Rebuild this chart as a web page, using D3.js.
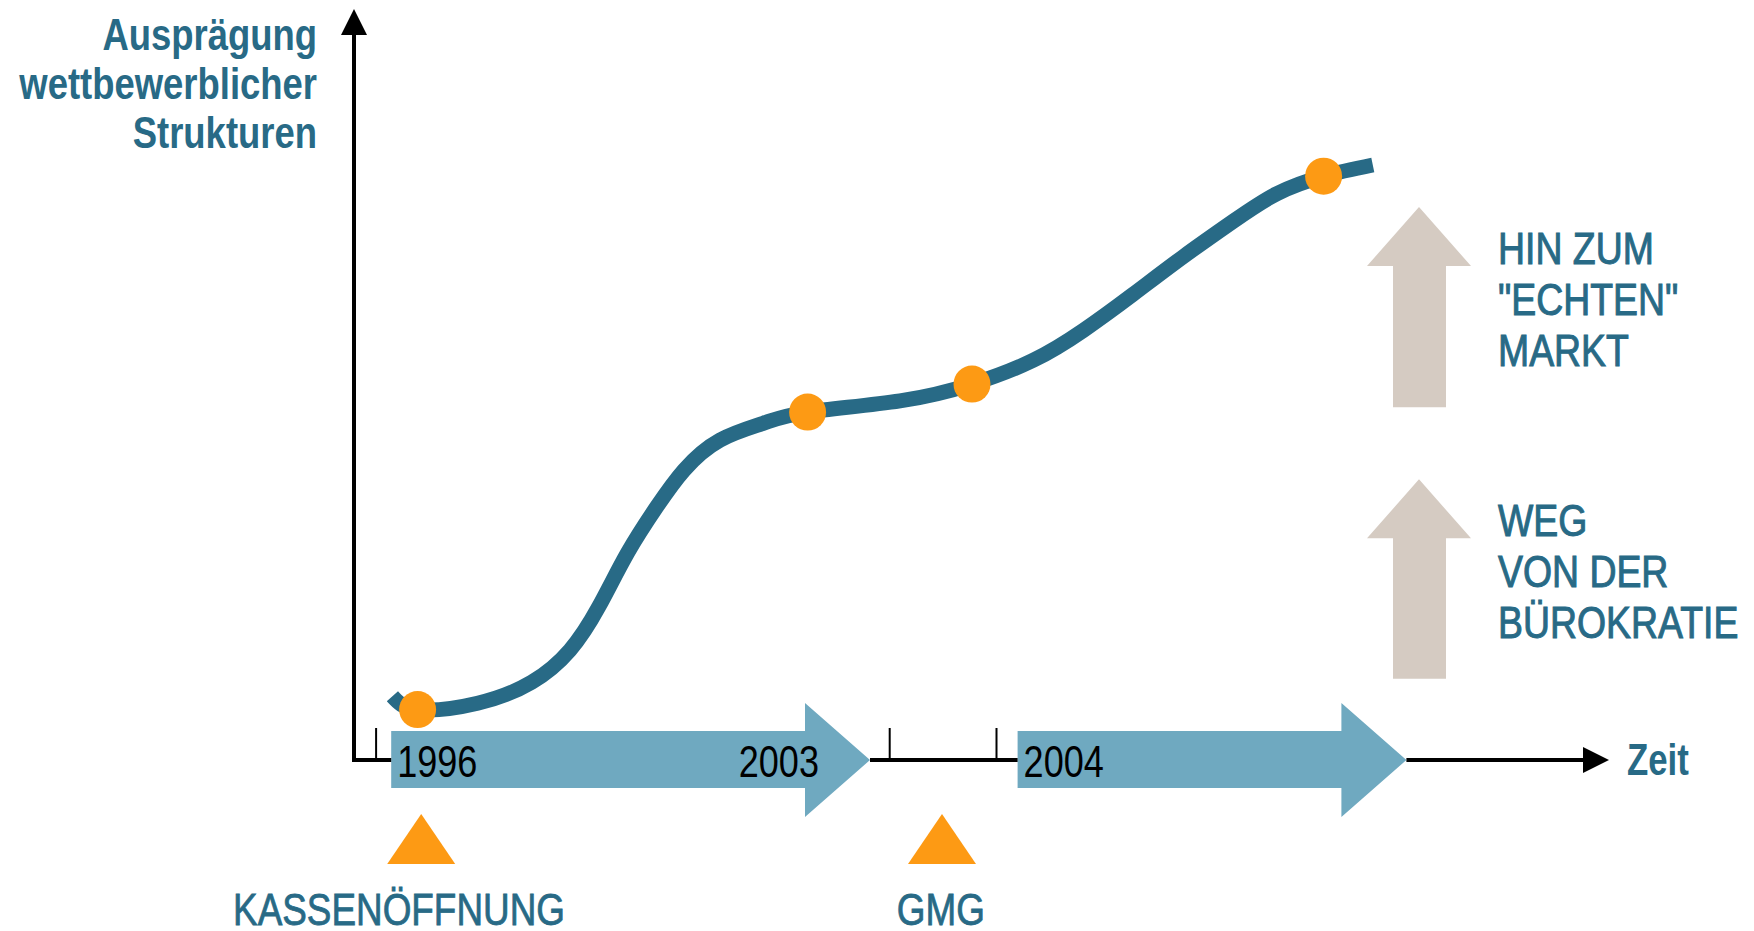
<!DOCTYPE html>
<html>
<head>
<meta charset="utf-8">
<script src="https://cdn.jsdelivr.net/npm/d3@7"></script>
<style>
  body { margin: 0; background: #fff; }
  svg text { font-family: "Liberation Sans", Arial, sans-serif; }
</style>
</head>
<body>
<script>
// Entwicklung wettbewerblicher Strukturen (schematic)

var width = 1754,
    height = 931;

// curve of the development, abstract units 0..100
var curveX = [3.2, 5.3, 10.3, 14.8, 18.0, 20.4, 22.8, 25.2, 27.5, 30.5, 34.1, 37.8, 45.5, 51.5, 56.6, 60.8, 64.9, 69.1, 73.3, 76.9, 80.8, 84.9];
var curveY = [9.1, 7.2, 8.1, 11.1, 15.7, 21.9, 29.6, 36.1, 41.4, 45.7, 48.1, 49.7, 51.3, 53.7, 57.1, 61.4, 66.5, 71.9, 77.0, 80.9, 83.4, 85.0];

// orange milestone dots
var markerX = [5.3, 37.8, 51.5, 80.8];
var markerY = [7.2, 49.7, 53.7, 83.4];

// small ticks on the time axis
var tickPositions = [1.8, 44.6, 53.5];

// phase arrows along the time axis
var phaseStart = [3.1, 55.3];
var phaseEnd = [43.0, 87.7];
var phaseStartLabel = ["1996", "2004"];
var phaseEndLabel = ["2003", ""];

// events below the axis
var eventX = [5.6, 49.0];
var eventLabelX = [3.75, 48.9];
var eventLabel = ["KASSENÖFFNUNG", "GMG"];

// trend arrows on the right
var trendX = 88.75;
var trendFrom = [50.4, 11.6];
var trendTo = [79.0, 40.1];
var trendLabel = [["HIN ZUM", "\"ECHTEN\"", "MARKT"], ["WEG", "VON DER", "BÜROKRATIE"]];

var yTitle = ["Ausprägung", "wettbewerblicher", "Strukturen"];
var xTitle = "Zeit";

var teal = "#286a86",
    orange = "#fd9a14",
    blue = "#6fa9c0",
    beige = "#d5cbc2";

// the original uses a condensed face; squeeze a regular one horizontally
var squeeze = 0.81;

var x = d3.scaleLinear().domain([0, 100]).range([354, 1554]);
var y = d3.scaleLinear().domain([0, 100]).range([760, 60]);

var svg = d3.select("body").append("svg")
    .attr("width", width)
    .attr("height", height);

// writes (multi-line) condensed text anchored at px,py
function label(parent, px, py, lines, size, opts) {
    opts = opts || {};
    var t = parent.append("text")
        .attr("transform", "translate(" + px + "," + py + ") scale(" + (opts.sx || squeeze) + ",1)")
        .attr("font-size", size)
        .attr("font-weight", opts.weight || "normal")
        .attr("text-anchor", opts.anchor || "start")
        .attr("fill", opts.fill || teal);
    if (opts.heavy) {
        // a touch heavier than regular, like the original's medium cut
        t.attr("stroke", opts.fill || teal).attr("stroke-width", opts.heavy);
    }
    t.selectAll("tspan")
        .data([].concat(lines))
        .enter()
        .append("tspan")
        .attr("x", 0)
        .attr("y", function(d, j) { return j * (opts.gap || 0); })
        .text(function(d) { return d; });
    return t;
}

// arrow heads for the axes
var defs = svg.append("defs");
defs.append("marker")
    .attr("id", "axisHead")
    .attr("viewBox", "0 0 26 26")
    .attr("refX", 0).attr("refY", 13)
    .attr("markerWidth", 26).attr("markerHeight", 26)
    .attr("markerUnits", "userSpaceOnUse")
    .attr("orient", "auto")
    .append("path")
    .attr("d", "M0,0 L26,13 L0,26 Z")
    .attr("fill", "#000");

var x0 = x(0), y0 = y(0);

// phase arrows (axis line peeks out between them)
var phases = svg.append("g");
phaseStart.forEach(function(s, i) {
    var a = x(s), b = x(phaseEnd[i]), hb = b - 65;
    phases.append("path")
        .attr("d", "M" + a + "," + (y0 - 29) + "L" + hb + "," + (y0 - 29) + "L" + hb + "," + (y0 - 57) +
                   "L" + b + "," + y0 + "L" + hb + "," + (y0 + 57) + "L" + hb + "," + (y0 + 28) +
                   "L" + a + "," + (y0 + 28) + "Z")
        .attr("fill", blue);
});

// axes
svg.append("line")
    .attr("x1", x0).attr("y1", y0)
    .attr("x2", x0).attr("y2", 35)
    .attr("stroke", "#000").attr("stroke-width", 4)
    .attr("marker-end", "url(#axisHead)");

svg.append("line")
    .attr("x1", x0 - 2).attr("y1", y0)
    .attr("x2", x(phaseStart[0])).attr("y2", y0)
    .attr("stroke", "#000").attr("stroke-width", 4);

svg.append("line")
    .attr("x1", x(phaseEnd[0])).attr("y1", y0)
    .attr("x2", x(phaseStart[1])).attr("y2", y0)
    .attr("stroke", "#000").attr("stroke-width", 4);

svg.append("line")
    .attr("x1", x(phaseEnd[1])).attr("y1", y0)
    .attr("x2", 1583).attr("y2", y0)
    .attr("stroke", "#000").attr("stroke-width", 4)
    .attr("marker-end", "url(#axisHead)");

var axis = svg.append("g")
    .attr("transform", "translate(0," + (y0 - 2) + ")")
    .call(d3.axisTop(x).tickValues(tickPositions).tickSize(30).tickFormat(""));
axis.select(".domain").remove();
axis.selectAll(".tick line").attr("stroke", "#000").attr("stroke-width", 2);

// year labels on the phase arrows
phaseStart.forEach(function(s, i) {
    label(phases, x(s) + 6, y0 + 17, phaseStartLabel[i], 44, { fill: "#000", sx: 0.82 });
    label(phases, x(phaseEnd[i]) - 51, y0 + 17, phaseEndLabel[i], 44, { fill: "#000", sx: 0.82, anchor: "end" });
});

// development curve
var line = d3.line()
    .x(function(d) { return x(d[0]); })
    .y(function(d) { return y(d[1]); })
    .curve(d3.curveNatural);

svg.append("path")
    .datum(curveX.map(function(v, i) { return [v, curveY[i]]; }))
    .attr("d", line)
    .attr("fill", "none")
    .attr("stroke", teal)
    .attr("stroke-width", 15);

svg.append("g")
    .selectAll("circle")
    .data(markerX)
    .enter()
    .append("circle")
    .attr("cx", function(d) { return x(d); })
    .attr("cy", function(d, i) { return y(markerY[i]); })
    .attr("r", 18.5)
    .attr("fill", orange);

// events
var ev = svg.append("g");
eventX.forEach(function(e, i) {
    var cx = x(e);
    ev.append("path")
        .attr("d", "M" + cx + "," + (y0 + 54) + "L" + (cx + 34) + "," + (y0 + 104) + "L" + (cx - 34) + "," + (y0 + 104) + "Z")
        .attr("fill", orange);
    label(ev, x(eventLabelX[i]), y0 + 165, eventLabel[i], 45, { anchor: "middle", sx: 0.82, heavy: 0.8 });
});

// trend arrows
var tr = svg.append("g");
trendFrom.forEach(function(f, i) {
    var cx = x(trendX), top = y(trendTo[i]), bottom = y(f);
    tr.append("path")
        .attr("d", "M" + cx + "," + top + "L" + (cx + 52) + "," + (top + 59) + "L" + (cx + 27) + "," + (top + 59) +
                   "L" + (cx + 27) + "," + bottom + "L" + (cx - 26) + "," + bottom + "L" + (cx - 26) + "," + (top + 59) +
                   "L" + (cx - 52) + "," + (top + 59) + "Z")
        .attr("fill", beige);
    label(tr, cx + 79, top + 57, trendLabel[i], 44, { gap: 51, sx: 0.85, heavy: 1 });
});

// axis titles
label(svg, 317, 50, yTitle, 45, { weight: "bold", anchor: "end", gap: 49 });
label(svg, 1627, 775, xTitle, 44, { weight: "bold", sx: 0.79 });
</script>
</body>
</html>
